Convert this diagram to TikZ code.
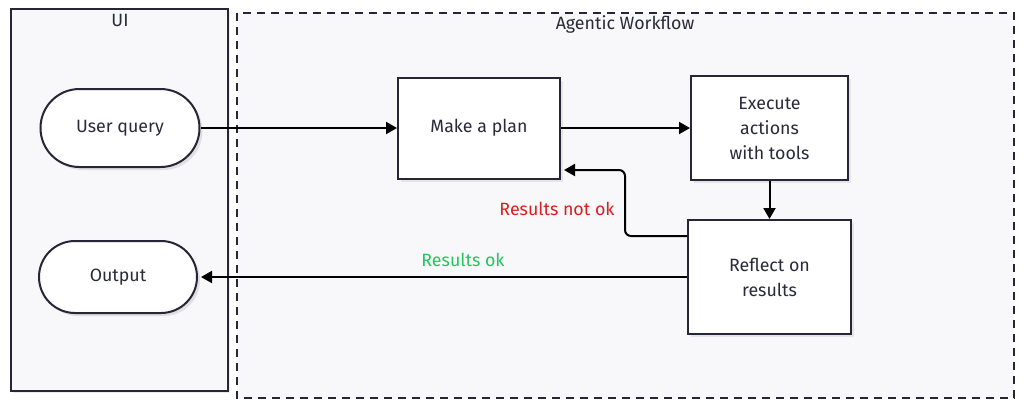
\documentclass[tikz,border=0pt]{standalone}
\usepackage{fontspec}
\setmainfont{Fira Sans}
\usetikzlibrary{arrows.meta,shadows,positioning}
\definecolor{edge}{HTML}{262638}
\definecolor{panel}{HTML}{F8F8FA}
\definecolor{txt}{HTML}{2A2A3A}
\definecolor{okgreen}{HTML}{22C55E}
\definecolor{badred}{HTML}{DC1E1E}
\tikzset{
  x=1pt,y=-1pt,
  every node/.style={font=\fontsize{17.8}{25}\selectfont, text=txt},
  stadium/.style={draw=edge, line width=2pt, fill=white, rounded corners=39pt, minimum width=159pt, minimum height=78pt, drop shadow={shadow xshift=3pt, shadow yshift=-3pt, fill=black!12, opacity=1}},
  procbox/.style={draw=edge, line width=2pt, fill=white, align=center, drop shadow={shadow xshift=3pt, shadow yshift=-3pt, fill=black!10, opacity=1}},
  conn/.style={draw=black, line width=2pt, -{Triangle[length=11pt,width=12pt]}},
}
\begin{document}
\begin{tikzpicture}
\useasboundingbox (0,0) rectangle (1024,408);
\fill[white] (0,0) rectangle (1024,408);
% UI panel
\draw[edge, line width=2pt, fill=panel, drop shadow={shadow xshift=2pt, shadow yshift=-2pt, fill=black!8, opacity=1}] (11,9) rectangle (228,391);
\node (uititle) at (120,20) {UI};
% Agentic panel
\draw[edge, line width=2pt, fill=panel, dash pattern=on 8pt off 6pt] (237,13) rectangle (1014,398);
\node (agtitle) at (625,24) {Agentic Workflow};
% nodes
\node[stadium] (query) at (120,128) {User query};
\node[stadium, minimum width=158pt, minimum height=72pt, rounded corners=36pt] (output) at (118,277) {Output};
\node[procbox, minimum width=162pt, minimum height=101pt] (plan) at (479,128) {Make a plan};
\node[procbox, minimum width=157pt, minimum height=104pt] (exec) at (769.5,128) {Execute\\actions\\with tools};
\node[procbox, minimum width=163pt, minimum height=114pt] (reflect) at (769.5,277) {Reflect on\\results};
% connectors
\draw[conn] (query.east) -- (plan.west);
\draw[conn] (plan.east) -- (exec.west);
\draw[conn] (exec.south) -- (reflect.north);
\coordinate (bend) at (625,236);
\draw[conn, rounded corners=6pt] (reflect.west |- bend) -- (bend) -- (625,170) -- ([xshift=3pt]plan.east |- 0,170);
\draw[conn] (reflect.west |- 0,277) -- ([xshift=3pt]output.east);
% labels
\node[text=badred] (notok) at (557,209) {Results not ok};
\node[text=okgreen] (ok) at (463,260) {Results ok};
\end{tikzpicture}
\end{document}
